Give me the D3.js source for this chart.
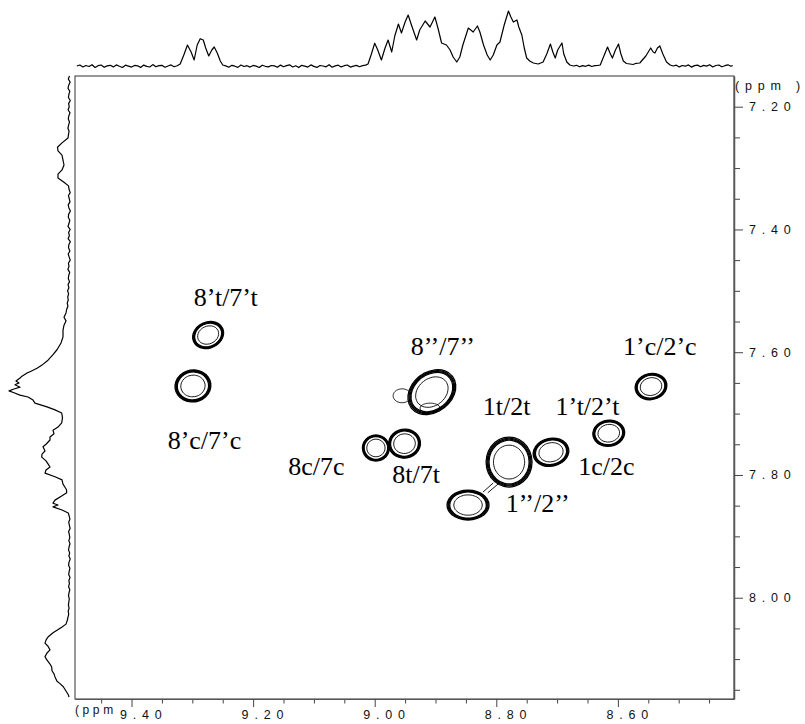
<!DOCTYPE html>
<html>
<head>
<meta charset="utf-8">
<script src="https://cdn.jsdelivr.net/npm/d3@7/dist/d3.min.js"></script>
<style>
  html, body { margin: 0; padding: 0; background: #fff; }
  svg { display: block; }
  .tick text { font-family: "Liberation Sans", Arial, sans-serif; }
</style>
</head>
<body>
<svg id="chart" width="805" height="724"></svg>
<script>
// ---------------- DATA ----------------
// F2 (horizontal) and F1 (vertical) ppm tick labels
const xMajorTicks = [9.40, 9.20, 9.00, 8.80, 8.60];
const xMinorTicks = [9.45, 9.35, 9.30, 9.25, 9.15, 9.10, 9.05, 8.95, 8.90, 8.85, 8.75, 8.70, 8.65, 8.55, 8.50, 8.45];
const yMajorTicks = [7.20, 7.40, 7.60, 7.80, 8.00];
const yMinorTicks = [7.25, 7.30, 7.35, 7.45, 7.50, 7.55, 7.65, 7.70, 7.75, 7.85, 7.90, 7.95, 8.05, 8.10, 8.15];
const unitLabel = "(ppm )";

// Top 1D projection: [ppm, intensity]
const topSpectrum = [
  [9.490,0.5],[9.485,1.5],[9.480,-0.5],[9.475,1.0],[9.470,0.0],[9.465,1.8],[9.460,-1.0],[9.455,0.8],
  [9.450,1.5],[9.445,-0.8],[9.440,0.6],[9.435,1.2],[9.430,-0.4],[9.425,1.6],[9.420,0.2],[9.415,-1.0],
  [9.410,1.3],[9.405,0.4],[9.400,-0.6],[9.395,1.1],[9.390,0.7],[9.385,-0.9],[9.380,1.4],[9.375,0.1],
  [9.370,-0.5],[9.365,1.9],[9.360,-0.3],[9.355,0.9],[9.350,1.2],[9.345,-0.8],[9.340,0.5],[9.335,1.6],
  [9.330,-0.2],[9.325,0.8],
  [9.320,2.5],[9.314,11.5],[9.308,21.5],[9.302,14.5],[9.297,6.5],[9.292,21.5],[9.287,27.8],[9.282,26.5],
  [9.278,18.5],[9.273,10.5],[9.268,16.5],[9.264,19.5],[9.259,13.5],[9.254,5.5],[9.250,1.5],
  [9.245,0.6],[9.240,-0.7],[9.235,1.2],[9.230,0.3],[9.225,-0.9],[9.220,1.5],[9.215,0.0],[9.210,0.8],
  [9.205,-0.6],[9.200,1.1],[9.195,0.4],[9.190,-1.0],[9.185,1.3],[9.180,0.2],[9.175,-0.4],[9.170,1.0],
  [9.165,0.6],[9.160,-0.8],[9.155,1.4],[9.150,-0.2],[9.145,0.9],[9.140,1.7],[9.135,-0.5],[9.130,0.7],
  [9.125,-1.1],[9.120,1.2],[9.115,0.3],[9.110,-0.6],[9.105,1.6],[9.100,0.1],[9.095,-0.9],[9.090,1.0],
  [9.085,0.5],[9.080,-0.3],[9.075,1.8],[9.070,-0.7],[9.065,0.6],[9.060,1.3],[9.055,-0.4],[9.050,0.8],
  [9.045,1.5],[9.040,-0.6],[9.035,0.4],[9.030,1.1],[9.025,-0.2],[9.020,0.9],[9.015,1.4],
  [9.011,2.5],[9.006,11.5],[9.000,23.2],[8.995,16.5],[8.989,6.5],[8.983,18.5],[8.978,26.5],[8.972,14.5],
  [8.967,30.5],[8.961,42.5],[8.956,33.5],[8.950,44.5],[8.945,51.5],[8.939,40.5],[8.931,26.5],[8.926,36.5],
  [8.917,45.5],[8.909,39.5],[8.901,49.5],[8.896,38.5],[8.890,23.5],[8.882,21.5],[8.876,16.5],[8.871,9.5],
  [8.865,4.5],[8.860,9.5],[8.855,21.5],[8.846,38.5],[8.838,34.5],[8.831,40.5],[8.827,34.5],[8.821,21.5],
  [8.815,11.5],[8.810,6.5],[8.805,11.5],[8.799,21.5],[8.794,24.5],[8.787,41.5],[8.780,55.5],[8.776,49.5],
  [8.772,44.5],[8.766,46.5],[8.763,39.5],[8.758,31.5],[8.754,18.5],[8.750,8.5],[8.745,5.5],[8.739,3.5],
  [8.731,2.5],[8.723,4.5],[8.717,12.5],[8.711,22.5],[8.707,14.5],[8.703,8.5],[8.699,16.5],[8.692,23.5],
  [8.689,12.5],[8.684,4.5],[8.679,1.5],[8.673,0.5],
  [8.668,1.2],[8.663,-0.3],[8.658,0.9],[8.653,0.2],[8.648,1.4],[8.643,0.0],[8.638,0.8],[8.633,1.1],
  [8.629,1.5],[8.623,10.5],[8.617,19.5],[8.613,13.5],[8.609,8.5],[8.604,16.5],[8.599,22.5],[8.595,12.5],
  [8.591,5.5],[8.586,3.0],[8.580,2.5],[8.575,2.0],[8.570,3.2],[8.564,3.5],[8.554,10.5],[8.546,18.5],
  [8.542,14.5],[8.539,13.5],[8.535,18.5],[8.531,20.5],[8.526,12.5],[8.520,4.5],[8.514,1.5],[8.509,0.5],
  [8.504,1.3],[8.499,-0.4],[8.494,1.0],[8.489,0.3],[8.484,1.6],[8.479,-0.6],[8.474,0.9],[8.469,1.4],
  [8.464,-0.2],[8.459,1.1],[8.454,0.4],[8.449,1.8],[8.444,-0.5],[8.439,1.0],[8.434,1.5],[8.429,-0.3],
  [8.424,0.8],[8.419,1.7],[8.414,0.2],[8.411,1.0]
];

// Left 1D projection: [ppm, intensity]
const leftSpectrum = [
  [7.150,0],[7.155,1.2],[7.160,-0.6],[7.165,0.8],[7.170,1.5],[7.175,-0.3],[7.180,0.6],[7.185,1.1],
  [7.190,-0.8],[7.195,0.9],[7.200,0.3],[7.205,1.4],[7.210,-0.5],[7.215,0.7],[7.220,1.2],[7.225,0.0],
  [7.230,0.9],[7.235,1.6],[7.240,0.4],[7.245,1.0],
  [7.251,1.5],[7.259,7.5],[7.266,12.0],[7.272,11.5],[7.279,7.5],[7.287,6.5],[7.295,5.5],[7.303,7.5],
  [7.310,11.5],[7.316,11.5],[7.323,5.5],[7.329,1.0],
  [7.335,0.4],[7.340,-0.7],[7.345,1.1],[7.350,0.2],[7.355,-0.5],[7.360,1.3],[7.365,0.6],[7.370,-0.9],
  [7.375,0.8],[7.380,1.2],[7.385,-0.3],[7.390,0.5],[7.395,1.5],[7.400,-0.6],[7.405,0.9],[7.410,0.1],
  [7.415,1.4],[7.420,-0.8],[7.425,0.7],[7.430,1.0],[7.435,-0.4],[7.440,1.3],[7.445,0.3],[7.450,-0.7],
  [7.455,1.1],[7.460,0.5],[7.465,1.6],[7.470,-0.2],[7.475,0.8],[7.480,1.2],[7.485,0.0],[7.490,1.5],
  [7.495,0.6],[7.500,1.9],[7.505,0.9],[7.510,1.8],[7.515,1.2],[7.520,2.3],[7.525,1.6],[7.530,2.8],
  [7.536,3.5],[7.543,5.5],[7.549,3.5],[7.556,5.5],[7.564,6.5],[7.575,6.5],[7.585,8.5],[7.596,12.5],
  [7.604,16.5],[7.613,21.5],[7.621,27.5],[7.626,32.5],[7.631,38.5],[7.634,42.5],[7.639,47.5],[7.642,49.5],
  [7.647,53.5],[7.650,50.5],[7.653,54.5],[7.657,49.5],[7.660,55.5],[7.663,60.5],[7.666,55.5],[7.670,49.5],
  [7.673,41.5],[7.678,36.5],[7.683,34.5],[7.689,22.5],[7.694,14.5],[7.699,7.8],[7.707,7.0],[7.715,7.8],
  [7.722,11.5],[7.727,16.5],[7.733,15.5],[7.738,19.5],[7.743,19.5],[7.750,23.5],[7.754,26.5],[7.761,24.5],
  [7.766,27.5],[7.771,27.8],[7.777,23.5],[7.782,21.5],[7.787,19.5],[7.792,23.5],[7.797,24.5],[7.803,14.5],
  [7.808,7.5],[7.815,6.5],[7.820,4.5],[7.824,3.0],[7.829,2.8],[7.834,7.5],[7.841,14.5],[7.846,16.5],
  [7.849,11.5],[7.852,16.5],[7.857,7.5],[7.862,1.2],
  [7.867,0.3],[7.872,-0.4],[7.877,0.8],[7.882,0.1],[7.887,-0.6],[7.892,0.9],[7.897,0.2],[7.902,-0.3],
  [7.907,0.7],[7.912,-0.5],[7.917,0.4],[7.922,1.0],[7.927,-0.2],[7.932,0.6],[7.937,-0.7],[7.942,0.5],
  [7.947,0.9],[7.952,-0.4],[7.957,0.3],[7.962,0.8],[7.967,-0.5],[7.972,0.6],[7.977,0.1],[7.982,0.9],
  [7.987,-0.3],[7.992,0.5],[7.997,1.0],[8.002,0.2],[8.007,0.7],[8.012,1.1],[8.017,0.4],[8.022,1.3],
  [8.027,0.8],[8.032,1.6],[8.036,2.0],
  [8.043,3.5],[8.048,7.8],[8.053,12.5],[8.057,16.5],[8.064,21.5],[8.069,23.5],[8.074,24.5],[8.079,21.5],
  [8.085,19.5],[8.090,22.5],[8.096,24.5],[8.101,22.8],[8.108,19.5],[8.113,17.8],[8.119,17.5],[8.124,15.5],
  [8.129,14.5],[8.136,12.5],[8.140,9.5],[8.145,6.2],[8.152,3.5],[8.158,1.2],[8.162,0.5]
];

// Cross peaks: F2 ppm, F1 ppm, half-width F2 (ppm), half-width F1 (ppm), tilt (deg)
const peakF2    = [9.274, 9.299, 8.906, 8.998, 8.951, 8.779, 8.8465, 8.710, 8.615, 8.5455];
const peakF1    = [7.572, 7.655, 7.665, 7.756, 7.749, 7.779, 7.849, 7.763, 7.732, 7.656];
const peakWF2   = [0.0263, 0.0296, 0.0428, 0.0222, 0.0263, 0.0378, 0.0345, 0.0296, 0.0263, 0.0263];
const peakWF1   = [0.0212, 0.0260, 0.0326, 0.0212, 0.0236, 0.0407, 0.0244, 0.0228, 0.0212, 0.0212];
const peakTilt  = [-25, -8, -38, 0, -8, 0, 0, -12, -8, -12];
const contourLevels = [1.0, 0.955, 0.915, 0.875, 0.68];

// Weak shoulders (single thin contour)
const shoulderF2  = [8.955, 8.909];
const shoulderF1  = [7.671, 7.691];
const shoulderWF2 = [0.0148, 0.0165];
const shoulderWF1 = [0.0114, 0.0081];

// Thin bridge contours between 1t/2t and 1''/2''
const bridges = [
  [[8.805, 7.813], [8.822, 7.828]],
  [[8.795, 7.813], [8.814, 7.829]]
];

// Peak labels
const labelText = ["8’t/7’t", "8’c/7’c", "8’’/7’’", "1t/2t", "1’t/2’t", "1’c/2’c", "1c/2c", "1’’/2’’", "8t/7t", "8c/7c"];
const labelF2   = [9.245, 9.280, 8.888, 8.783, 8.650, 8.531, 8.619, 8.732, 8.932, 9.096];
const labelF1   = [7.524, 7.757, 7.605, 7.702, 7.702, 7.605, 7.800, 7.860, 7.813, 7.800];

// ---------------- DRAWING ----------------
const svg = d3.select("#chart");
const x = d3.scaleLinear().domain([9.493, 8.409]).range([75, 734]);
const y = d3.scaleLinear().domain([7.150, 8.165]).range([76, 699]);
const topY = d3.scaleLinear().domain([0, 60]).range([66.5, 6.5]);
const leftX = d3.scaleLinear().domain([0, 60]).range([69.5, 9.5]);

// frame
svg.append("rect")
  .attr("x", x.range()[0]).attr("y", y.range()[0])
  .attr("width", x.range()[1] - x.range()[0])
  .attr("height", y.range()[1] - y.range()[0])
  .attr("fill", "none").attr("stroke", "#333").attr("stroke-width", 1);

// bottom axis
const gB = svg.append("g").attr("transform", `translate(0,${y.range()[1]})`);
gB.append("g").call(d3.axisBottom(x).tickValues(xMinorTicks).tickSize(4.5).tickSizeOuter(0).tickFormat(""))
  .call(g => g.select(".domain").remove());
gB.append("g").call(d3.axisBottom(x).tickValues(xMajorTicks).tickSize(8).tickSizeOuter(0).tickFormat(d3.format(".2f")))
  .call(g => g.select(".domain").attr("stroke", "#555"))
  .call(g => g.selectAll(".tick text")
    .attr("text-anchor", "start").attr("dx", -12).attr("y", 11).attr("dy", "0.71em")
    .attr("font-size", 12.5).attr("letter-spacing", "5.8px").attr("fill", "#111"));
gB.selectAll(".tick line").attr("stroke", "#444");

// right axis
const gR = svg.append("g").attr("transform", `translate(${x.range()[1]},0)`);
gR.append("g").call(d3.axisRight(y).tickValues(yMinorTicks).tickSize(6).tickSizeOuter(0).tickFormat(""))
  .call(g => g.select(".domain").remove());
gR.append("g").call(d3.axisRight(y).tickValues(yMajorTicks).tickSize(9).tickSizeOuter(0).tickFormat(d3.format(".2f")))
  .call(g => g.select(".domain").attr("stroke", "#555").attr("stroke-width", 1.5))
  .call(g => g.selectAll(".tick text")
    .attr("x", 15).attr("font-size", 12.5).attr("letter-spacing", "5.8px").attr("fill", "#111"));
gR.selectAll(".tick line").attr("stroke", "#444");

// unit labels
svg.append("text").attr("x", 735).attr("y", 89.5)
  .attr("font-family", "Liberation Sans, Arial, sans-serif").attr("font-size", 12.5)
  .attr("letter-spacing", "5.8px").attr("fill", "#111").text(unitLabel);
svg.append("text").attr("x", 75).attr("y", 714)
  .attr("font-family", "Liberation Sans, Arial, sans-serif").attr("font-size", 12)
  .attr("letter-spacing", "3.6px").attr("fill", "#111").text(unitLabel.replace(" )", ""));

// projections
svg.append("path").datum(topSpectrum)
  .attr("d", d3.line().x(d => x(d[0])).y(d => topY(d[1])))
  .attr("fill", "none").attr("stroke", "#000").attr("stroke-width", 1.2).attr("stroke-linejoin", "round");
svg.append("path").datum(leftSpectrum)
  .attr("d", d3.line().x(d => leftX(d[1])).y(d => y(d[0])))
  .attr("fill", "none").attr("stroke", "#000").attr("stroke-width", 1.2).attr("stroke-linejoin", "round");

// contour helper
function ellipsePath(cx, cy, wx, wy, tiltDeg, k) {
  const px = x(cx), py = y(cy);
  const rx = Math.abs(x(cx + wx) - x(cx)) * k;
  const ry = Math.abs(y(cy + wy) - y(cy)) * k;
  const a = tiltDeg * Math.PI / 180;
  const pts = d3.range(14).map(i => {
    const t = i / 14 * 2 * Math.PI;
    const ex = rx * Math.cos(t), ey = ry * Math.sin(t);
    return [px + ex * Math.cos(a) - ey * Math.sin(a), py + ex * Math.sin(a) + ey * Math.cos(a)];
  });
  return d3.line().curve(d3.curveCardinalClosed.tension(0.2))(pts);
}

const gC = svg.append("g").attr("fill", "none").attr("stroke", "#000");
peakF2.forEach((cx, i) => {
  contourLevels.forEach((k, j) => {
    gC.append("path")
      .attr("d", ellipsePath(cx, peakF1[i], peakWF2[i], peakWF1[i], peakTilt[i], k))
      .attr("stroke-width", j < 4 ? 1.3 : 0.9);
  });
});
shoulderF2.forEach((cx, i) => {
  gC.append("path")
    .attr("d", ellipsePath(cx, shoulderF1[i], shoulderWF2[i], shoulderWF1[i], 0, 1))
    .attr("stroke-width", 0.8);
});
bridges.forEach(b => {
  gC.append("path")
    .attr("d", d3.line().x(d => x(d[0])).y(d => y(d[1]))(b))
    .attr("stroke-width", 0.9);
});

// labels
labelText.forEach((t, i) => {
  svg.append("text")
    .attr("x", x(labelF2[i])).attr("y", y(labelF1[i]))
    .attr("text-anchor", "middle")
    .attr("font-family", "Liberation Serif, Times New Roman, serif")
    .attr("font-size", 26).attr("fill", "#000")
    .text(t);
});
</script>
</body>
</html>
